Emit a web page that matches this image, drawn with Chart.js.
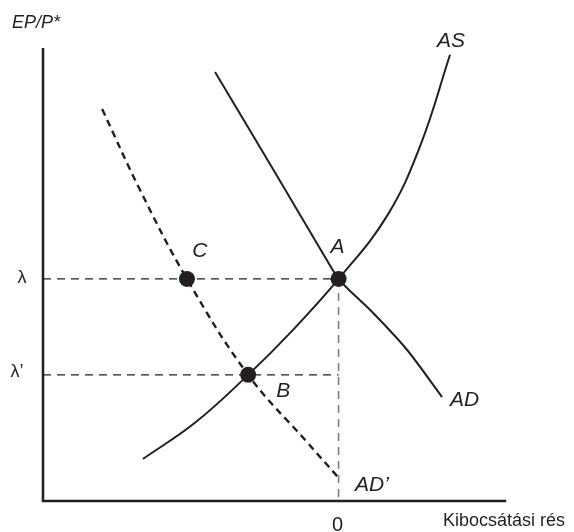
<!DOCTYPE html>
<html>
<head>
<meta charset="utf-8">
<script src="https://cdn.jsdelivr.net/npm/chart.js@4/dist/chart.umd.min.js"></script>
<style>
  html, body { margin: 0; padding: 0; background: #fff; }
  #wrap { width: 574px; height: 532px; position: relative; }
</style>
</head>
<body>
<div id="wrap"><canvas id="chart"></canvas></div>
<script>
// tengelyek tartománya
const xMin = -10, xMax = 5.63, yMax = 15.3;

// egyensúlyi árfolyamszintek
const lambda = 7.5;
const lambdaPrime = 4.26;

// AS görbe
const asX = [-6.62, -4.86, -3.06, -1.54, 0, 1.64, 2.76, 3.77];
const asY = [1.42, 2.64, 4.26, 5.78, 7.5, 9.63, 11.99, 15.07];

// AD görbe
const adX = [-4.18, -2.08, -0.36, 0, 0.32, 1.17, 2.32, 3.50];
const adY = [14.49, 10.98, 8.07, 7.5, 7.16, 6.35, 5.10, 3.51];

// AD' görbe (szaggatott)
const adpX = [-8.00, -6.72, -5.13, -3.06, -1.07, -0.05];
const adpY = [13.24, 10.51, 7.5, 4.26, 1.99, 0.84];

// pontok
const ptLabels = ['A', 'B', 'C'];
const ptX = [0, -3.06, -5.13];
const ptY = [lambda, lambdaPrime, lambda];

const ink = '#231f20';
const zip = (xs, ys) => xs.map((x, i) => ({ x, y: ys[i] }));

const line = (data, extra) => Object.assign({
  type: 'line',
  data,
  borderColor: ink,
  borderWidth: 2,
  pointRadius: 0,
  fill: false,
  tension: 0,
  clip: false
}, extra);

const labelsPlugin = {
  id: 'labels',
  afterDraw(chart) {
    const ctx = chart.ctx;
    const sx = chart.scales.x, sy = chart.scales.y;
    const px = v => sx.getPixelForValue(v);
    const py = v => sy.getPixelForValue(v);
    const it = '21px "Liberation Sans", Arial, sans-serif';
    ctx.save();
    ctx.fillStyle = ink;
    ctx.textBaseline = 'alphabetic';

    // pontok betűi
    ctx.font = 'italic ' + it;
    ctx.textAlign = 'center';
    const off = { A: [-1, -26], B: [35, 22], C: [13, -22] };
    ptLabels.forEach((t, i) => {
      ctx.fillText(t, px(ptX[i]) + off[t][0], py(ptY[i]) + off[t][1]);
    });

    // görbék nevei
    ctx.fillText('AS', px(asX[asX.length - 1]) + 1, py(asY[asY.length - 1]) - 8);
    ctx.textAlign = 'left';
    ctx.fillText('AD', px(adX[adX.length - 1]) + 8, py(adY[adY.length - 1]) + 9);
    ctx.fillText('AD\u2019', px(adpX[adpX.length - 1]) + 18, py(adpY[adpY.length - 1]) + 15);

    // tengelyfeliratok
    ctx.font = 'italic 18px "Liberation Sans", Arial, sans-serif';
    ctx.fillText('EP/P*', px(xMin) - 31, py(yMax) - 20);
    ctx.font = '18px "Liberation Sans", Arial, sans-serif';
    ctx.textAlign = 'center';
    ctx.fillText('\u03bb', px(xMin) - 21, py(lambda) + 4);
    ctx.fillText('\u03bb\u2019', px(xMin) - 26, py(lambdaPrime) + 2);
    ctx.font = '20px "Liberation Sans", Arial, sans-serif';
    ctx.fillText('0', px(0) - 1, py(0) + 30);
    ctx.font = '18px "Liberation Sans", Arial, sans-serif';
    ctx.textAlign = 'left';
    ctx.fillText('Kibocsátási rés', 443, py(0) + 25);
    ctx.restore();
  }
};

new Chart(document.getElementById('chart'), {
  type: 'scatter',
  data: {
    datasets: [
      {
        type: 'scatter',
        data: zip(ptX, ptY),
        pointRadius: 8,
        pointBackgroundColor: ink,
        pointBorderWidth: 0,
        clip: false
      },
      line(zip(asX, asY), { tension: 0.4 }),
      line(zip(adX, adY), { tension: 0.3 }),
      line(zip(adpX, adpY), { tension: 0.4, borderDash: [7, 5], borderWidth: 2.4 }),
      // segédvonalak
      line([{ x: xMin, y: lambda }, { x: 0, y: lambda }], { borderDash: [8, 6], borderWidth: 1.3 }),
      line([{ x: xMin, y: lambdaPrime }, { x: 0, y: lambdaPrime }], { borderDash: [8, 6], borderWidth: 1.3 }),
      line([{ x: 0, y: lambda }, { x: 0, y: 0 }], { borderDash: [8, 6], borderWidth: 1.6, borderColor: '#808080' }),
      // tengelyek
      line([{ x: xMin, y: 0 }, { x: xMax, y: 0 }], { borderWidth: 2.5, borderCapStyle: 'square' }),
      line([{ x: xMin, y: 0 }, { x: xMin, y: yMax }], { borderWidth: 2.5 })
    ]
  },
  options: {
    responsive: true,
    maintainAspectRatio: false,
    animation: false,
    layout: { padding: { left: 43, right: 69, top: 48, bottom: 31 } },
    plugins: {
      legend: { display: false },
      tooltip: { enabled: false }
    },
    scales: {
      x: { type: 'linear', min: xMin, max: xMax, display: false },
      y: { type: 'linear', min: 0, max: yMax, display: false }
    }
  },
  plugins: [labelsPlugin]
});
</script>
</body>
</html>
